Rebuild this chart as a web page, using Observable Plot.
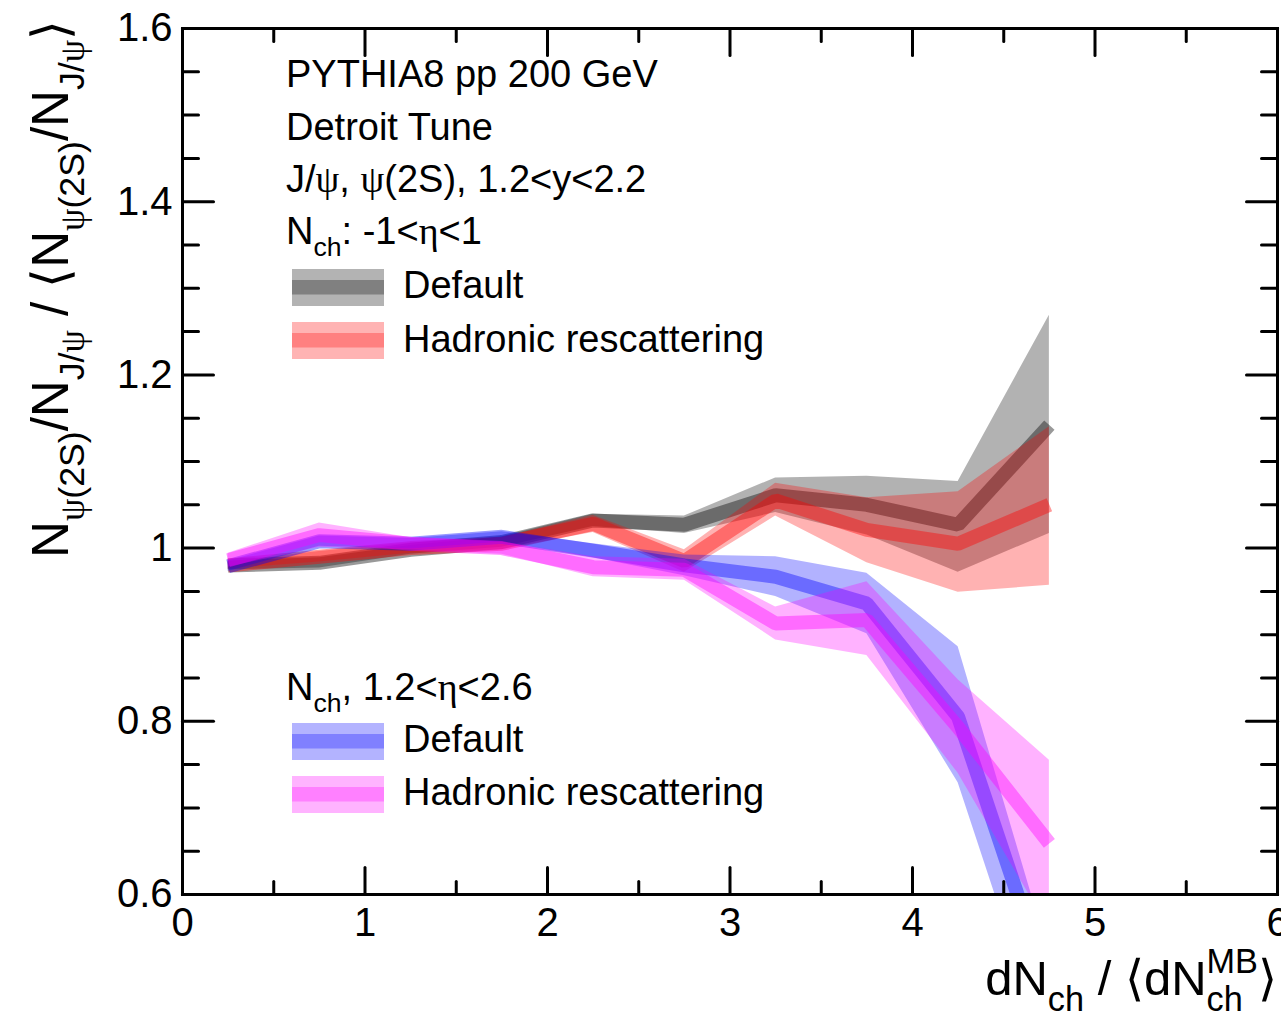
<!DOCTYPE html>
<html><head><meta charset="utf-8">
<script src="https://cdn.jsdelivr.net/npm/d3@7"></script>
<script src="https://cdn.jsdelivr.net/npm/@observablehq/plot@0.6"></script>
<style>
body{margin:0;background:#fff;}
#wrap{position:relative;width:1281px;height:1024px;}
svg text{white-space:pre;}
</style></head><body><div id="wrap"></div>
<script>
const FONT = '"Liberation Sans", Arial, Helvetica, sans-serif';
const SERIF = '"Liberation Serif", "DejaVu Serif", serif';

// x bin centres (dN_ch / <dN_ch^MB>)
const xCenters = [0.25, 0.75, 1.25, 1.75, 2.25, 2.75, 3.25, 3.75, 4.25, 4.75];

// N_ch: -1<eta<1, Default
const defMidY  = [0.980, 0.983, 0.998, 1.007, 1.032, 1.027, 1.061, 1.050, 1.027, 1.142];
const defMidLo = [0.975, 0.977, 0.993, 1.001, 1.025, 1.017, 1.041, 1.015, 0.972, 1.017];
const defMidHi = [0.985, 0.989, 1.003, 1.013, 1.039, 1.037, 1.081, 1.083, 1.077, 1.269];
// N_ch: -1<eta<1, Hadronic rescattering
const hadMidY  = [0.980, 0.990, 1.000, 1.005, 1.028, 0.985, 1.055, 1.021, 1.005, 1.050];
const hadMidLo = [0.976, 0.984, 0.994, 0.998, 1.018, 0.972, 1.037, 0.983, 0.949, 0.957];
const hadMidHi = [0.984, 0.996, 1.006, 1.012, 1.038, 0.998, 1.075, 1.058, 1.065, 1.140];
// N_ch: 1.2<eta<2.6, Default
const defFwdY  = [0.979, 1.008, 1.005, 1.013, 0.997, 0.980, 0.967, 0.936, 0.805, 0.490];
const defFwdLo = [0.973, 1.002, 0.999, 1.007, 0.989, 0.968, 0.944, 0.901, 0.729, 0.410];
const defFwdHi = [0.985, 1.014, 1.011, 1.019, 1.005, 0.992, 0.990, 0.971, 0.886, 0.530];
// N_ch: 1.2<eta<2.6, Hadronic rescattering
const hadFwdY  = [0.986, 1.015, 1.005, 1.000, 0.978, 0.975, 0.913, 0.917, 0.793, 0.659];
const hadFwdLo = [0.978, 1.001, 0.998, 0.993, 0.967, 0.963, 0.894, 0.876, 0.740, 0.560];
const hadFwdHi = [0.994, 1.029, 1.012, 1.007, 0.990, 0.987, 0.932, 0.961, 0.848, 0.755];

const seriesNames  = ["Default", "Hadronic rescattering", "Default", "Hadronic rescattering"];
const seriesColors = ["#000000", "#ff0000", "#0000ff", "#ff00ff"];
const seriesBand   = ["#b3b3b3", "#ffb3b3", "#b3b3ff", "#ffb3ff"];
const seriesLine   = ["#808080", "#ff8080", "#8080ff", "#ff80ff"];

const xMajorTicks = [0, 1, 2, 3, 4, 5, 6];
const xMajorLabels = ["0", "1", "2", "3", "4", "5", "6"];
const xMinorTicks = [0.5, 1.5, 2.5, 3.5, 4.5, 5.5];
const yMajorTicks = [0.6, 0.8, 1.0, 1.2, 1.4, 1.6];
const yMajorLabels = ["0.6", "0.8", "1", "1.2", "1.4", "1.6"];
const yMinorTicks = [0.65, 0.7, 0.75, 0.85, 0.9, 0.95, 1.05, 1.1, 1.15, 1.25, 1.3, 1.35, 1.45, 1.5, 1.55];

const seriesData = [
  [defMidY, defMidLo, defMidHi],
  [hadMidY, hadMidLo, hadMidHi],
  [defFwdY, defFwdLo, defFwdHi],
  [hadFwdY, hadFwdLo, hadFwdHi]
];

const tickShape = {draw(ctx, l) { ctx.moveTo(0, 0); ctx.lineTo(0, -l); }};
const ticks = (data, opts) => Plot.vector(data, {anchor: "start", shape: tickShape, stroke: "black", strokeWidth: 3, ...opts});

const seriesMarks = seriesData.flatMap(([Y, LO, HI], k) => {
  const rows = xCenters.map((x, i) => ({x, y: Y[i], lo: LO[i], hi: HI[i]}));
  return [
    Plot.areaY(rows, {x: "x", y1: "lo", y2: "hi", fill: seriesColors[k], fillOpacity: 0.3, clip: true}),
    Plot.line(rows, {x: "x", y: "y", stroke: seriesColors[k], strokeOpacity: 0.4, strokeWidth: 14,
      strokeLinejoin: "miter", strokeLinecap: "butt", clip: true})
  ];
});

const chart = Plot.plot({
  width: 1281, height: 1024,
  marginLeft: 182, marginRight: 4, marginTop: 28, marginBottom: 130,
  style: {fontFamily: FONT, color: "black", background: "white", overflow: "visible"},
  x: {domain: [0, 6], axis: null},
  y: {domain: [0.6, 1.6], axis: null},
  marks: [
    ...seriesMarks,
    ticks(xMajorTicks, {x: d => d, frameAnchor: "bottom", length: 27, rotate: 0}),
    ticks(xMinorTicks, {x: d => d, frameAnchor: "bottom", length: 13, rotate: 0}),
    ticks(xMajorTicks, {x: d => d, frameAnchor: "top", length: 27, rotate: 180}),
    ticks(xMinorTicks, {x: d => d, frameAnchor: "top", length: 13, rotate: 180}),
    ticks(yMajorTicks, {y: d => d, frameAnchor: "left", length: 31, rotate: 90}),
    ticks(yMinorTicks, {y: d => d, frameAnchor: "left", length: 16, rotate: 90}),
    ticks(yMajorTicks, {y: d => d, frameAnchor: "right", length: 31, rotate: -90}),
    ticks(yMinorTicks, {y: d => d, frameAnchor: "right", length: 16, rotate: -90}),
    Plot.frame({stroke: "black", strokeWidth: 3}),
    Plot.axisX(xMajorTicks, {anchor: "bottom", tickSize: 0, tickPadding: 13, fontSize: 40, label: null,
      tickFormat: d => xMajorLabels[xMajorTicks.indexOf(d)]}),
    Plot.axisY(yMajorTicks, {anchor: "left", tickSize: 0, tickPadding: 10, fontSize: 40, label: null,
      tickFormat: d => yMajorLabels[yMajorTicks.indexOf(d)]})
  ]
});
document.getElementById("wrap").appendChild(chart);
const svg = d3.select(chart);

// rich text helper (sub/superscripts)
function rich(parts, {x, y, anchor = "start", rotate = 0, size = 38}) {
  const g = svg.append("g").attr("transform", `translate(${x},${y}) rotate(${rotate})`)
    .attr("font-family", FONT).attr("fill", "black").attr("text-anchor", "start");
  let cx = 0, prevStart = 0;
  for (const p0 of parts) {
    const p = typeof p0 === "string" ? {t: p0} : p0;
    const fs = p.sub || p.sup ? size * 0.7 : size;
    const dy = p.sub ? size * 0.32 : p.sup ? -size * 0.45 : 0;
    const startX = p.stack ? prevStart : cx;
    const t = g.append("text").attr("x", startX).attr("y", dy).attr("font-size", fs)
      .attr("text-anchor", "start").attr("xml:space", "preserve").text(p.t);
    if (p.font) t.attr("font-family", p.font);
    const w = t.node().getComputedTextLength();
    if (p.stack) cx = Math.max(cx, startX + w);
    else { prevStart = startX; cx = startX + w; }
  }
  if (anchor === "end") g.selectAll("text").attr("x", function() { return +this.getAttribute("x") - cx; });
  return g;
}

const psi = {t: "ψ", font: SERIF};
const eta = {t: "η", font: SERIF};
rich(["PYTHIA8 pp 200 GeV"], {x: 286, y: 87});
rich(["Detroit Tune"], {x: 286, y: 139.5});
rich(["J/", psi, ", ", psi, "(2S), 1.2<y<2.2"], {x: 286, y: 192});
rich(["N", {t: "ch", sub: true}, ": -1<", eta, "<1"], {x: 286, y: 244});
rich(["N", {t: "ch", sub: true}, ", 1.2<", eta, "<2.6"], {x: 286, y: 700});

// legend
const legendRows = [
  {k: 0, top: 269, ty: 298},
  {k: 1, top: 322, ty: 352},
  {k: 2, top: 723, ty: 752},
  {k: 3, top: 776, ty: 805}
];
for (const r of legendRows) {
  svg.append("rect").attr("x", 292).attr("y", r.top).attr("width", 92).attr("height", 37).attr("fill", seriesBand[r.k]);
  svg.append("rect").attr("x", 292).attr("y", r.top + 11).attr("width", 92).attr("height", 14.5).attr("fill", seriesLine[r.k]);
  rich([seriesNames[r.k]], {x: 403, y: r.ty});
}

// axis titles
rich(["dN", {t: "ch", sub: true}, " / ⟨dN", {t: "MB", sup: true}, {t: "ch", sub: true, stack: true}, "⟩"],
  {x: 1277, y: 995, anchor: "end", size: 49});
rich(["N", {t: "ψ", sub: true, font: SERIF}, {t: "(2S)", sub: true}, "/N", {t: "J/", sub: true}, {t: "ψ", sub: true, font: SERIF},
      " / ⟨N", {t: "ψ", sub: true, font: SERIF}, {t: "(2S)", sub: true}, "/N", {t: "J/", sub: true}, {t: "ψ", sub: true, font: SERIF}, "⟩"],
  {x: 68, y: 20, anchor: "end", rotate: -90, size: 51});
</script></body></html>
